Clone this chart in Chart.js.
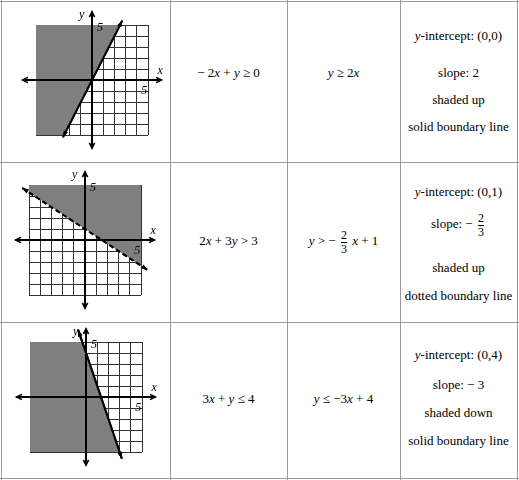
<!DOCTYPE html>
<html><head><meta charset="utf-8">
<script src="https://cdn.jsdelivr.net/npm/chart.js@4"></script>
<style>
body{margin:0;background:#fff;font-family:"Liberation Serif","Times New Roman","DejaVu Serif",serif;font-size:13px;color:#000}
#wrap{position:relative;width:519px;height:480px}
.v{position:absolute;top:0;height:480px;width:1px;background:#999}
.h{position:absolute;left:0;width:519px;height:1px;background:#999}
.cell{position:absolute;text-align:center}
canvas{position:absolute}
.frac{display:inline-flex;flex-direction:column;vertical-align:middle;text-align:center;font-size:12px;line-height:13px;margin:0 2px}
.frac span:first-child{border-bottom:1px solid #000}
i{font-style:italic}
</style></head><body>
<div id="wrap">
  <div class="h" style="top:1px"></div><div class="h" style="top:162px"></div>
  <div class="h" style="top:322px"></div><div class="h" style="top:478px"></div>
  <div class="v" style="left:1px"></div><div class="v" style="left:170px"></div>
  <div class="v" style="left:287px"></div><div class="v" style="left:400px"></div>
  <div class="v" style="left:517px"></div>

  <canvas id="g1" width="152" height="150" style="left:16px;top:5px"></canvas>
  <canvas id="g2" width="152" height="150" style="left:9px;top:165px"></canvas>
  <canvas id="g3" width="152" height="150" style="left:10px;top:322px"></canvas>

  <div class="cell" style="left:170px;width:117px;top:65px">− 2<i>x</i> + <i>y</i> ≥ 0</div>
  <div class="cell" style="left:287px;width:113px;top:65px"><i>y</i> ≥ 2<i>x</i></div>
  <div class="cell" style="left:400px;width:117px;top:28px"><i>y</i>-intercept: (0,0)</div>
  <div class="cell" style="left:400px;width:117px;top:65px">slope: 2</div>
  <div class="cell" style="left:400px;width:117px;top:92px">shaded up</div>
  <div class="cell" style="left:400px;width:117px;top:119px">solid boundary line</div>

  <div class="cell" style="left:170px;width:117px;top:233px">2<i>x</i> + 3<i>y</i> &gt; 3</div>
  <div class="cell" style="left:287px;width:113px;top:229px"><i>y</i> &gt; − <span class="frac"><span>2</span><span>3</span></span> <i>x</i> + 1</div>
  <div class="cell" style="left:400px;width:117px;top:184px"><i>y</i>-intercept: (0,1)</div>
  <div class="cell" style="left:400px;width:117px;top:212px">slope: − <span class="frac"><span>2</span><span>3</span></span></div>
  <div class="cell" style="left:400px;width:117px;top:260px">shaded up</div>
  <div class="cell" style="left:400px;width:117px;top:288px">dotted boundary line</div>

  <div class="cell" style="left:170px;width:117px;top:391px">3<i>x</i> + <i>y</i> ≤ 4</div>
  <div class="cell" style="left:287px;width:113px;top:391px"><i>y</i> ≤ −3<i>x</i> + 4</div>
  <div class="cell" style="left:400px;width:117px;top:347px"><i>y</i>-intercept: (0,4)</div>
  <div class="cell" style="left:400px;width:117px;top:377px">slope: − 3</div>
  <div class="cell" style="left:400px;width:117px;top:405px">shaded down</div>
  <div class="cell" style="left:400px;width:117px;top:433px">solid boundary line</div>
</div>
<script>
const gridTicks = [-5, -4, -3, -2, -1, 0, 1, 2, 3, 4, 5];

// graph 1: y >= 2x
const shade1 = [{x:-5,y:-5},{x:-2.5,y:-5},{x:2.5,y:5},{x:5,y:5}];
const line1 = [{x:-2.6,y:-5.2},{x:2.7,y:5.4}];
// graph 2: y > -2/3 x + 1
const shade2 = [{x:-5,y:4.33},{x:5,y:-2.33}];
const line2 = [{x:-5.6,y:4.73},{x:5.6,y:-2.73}];
// graph 3: y <= -3x + 4
const shade3 = [{x:-5,y:5},{x:-0.33,y:5},{x:3,y:-5},{x:5,y:-5}];
const line3 = [{x:-0.7,y:6.1},{x:3.2,y:-5.6}];

function arrow(ctx, x1, y1, x2, y2) {
  const a = Math.atan2(y2 - y1, x2 - x1), s = 6;
  ctx.beginPath();
  ctx.moveTo(x2 - s * Math.cos(a - 0.45), y2 - s * Math.sin(a - 0.45));
  ctx.lineTo(x2, y2);
  ctx.lineTo(x2 - s * Math.cos(a + 0.45), y2 - s * Math.sin(a + 0.45));
  ctx.stroke();
}

const axesPlugin = {
  id: "axes",
  afterDraw(chart) {
    const ctx = chart.ctx, xs = chart.scales.x, ys = chart.scales.y;
    const x0 = xs.getPixelForValue(0), y0 = ys.getPixelForValue(0);
    const left = xs.getPixelForValue(-6.2), right = xs.getPixelForValue(6.2);
    const top = ys.getPixelForValue(6.2), bottom = ys.getPixelForValue(-6.2);
    const ds = chart.data.datasets[1];
    const p = ds.data.map(d => [xs.getPixelForValue(d.x), ys.getPixelForValue(d.y)]);
    ctx.save();
    // boundary line on top of grid
    ctx.strokeStyle = "#000"; ctx.lineWidth = 2;
    ctx.setLineDash(ds.borderDash);
    ctx.beginPath(); ctx.moveTo(p[0][0], p[0][1]); ctx.lineTo(p[1][0], p[1][1]); ctx.stroke();
    ctx.setLineDash([]);
    ctx.beginPath(); ctx.moveTo(left, y0); ctx.lineTo(right, y0);
    ctx.moveTo(x0, top); ctx.lineTo(x0, bottom); ctx.stroke();
    ctx.lineWidth = 1.6;
    arrow(ctx, x0, y0, left, y0); arrow(ctx, x0, y0, right, y0);
    arrow(ctx, x0, y0, x0, top); arrow(ctx, x0, y0, x0, bottom);
    ctx.fillStyle = "#000";
    [[p[0], p[1]], [p[1], p[0]]].forEach(([a, b]) => {
      const ang = Math.atan2(a[1] - b[1], a[0] - b[0]);
      ctx.beginPath();
      ctx.moveTo(a[0], a[1]);
      ctx.lineTo(a[0] - 7 * Math.cos(ang - 0.35), a[1] - 7 * Math.sin(ang - 0.35));
      ctx.lineTo(a[0] - 7 * Math.cos(ang + 0.35), a[1] - 7 * Math.sin(ang + 0.35));
      ctx.fill();
    });
    ctx.font = "italic 12px 'Liberation Serif', serif";
    ctx.fillText("y", x0 - 13, top + 6);
    ctx.fillText("x", right - 4, y0 - 6);
    ctx.fillText("5", x0 + 5, ys.getPixelForValue(4.5));
    ctx.fillText("5", xs.getPixelForValue(4.4), y0 + 14);
    ctx.restore();
  }
};

function buildGraph(id, shade, fillTo, line, dashed) {
  new Chart(document.getElementById(id), {
    type: "scatter",
    data: {
      datasets: [
        { data: shade, showLine: true, fill: fillTo, pointRadius: 0, borderWidth: 0,
          backgroundColor: "#7f7f7f", borderColor: "rgba(0,0,0,0)" },
        { data: line, showLine: true, pointRadius: 0, borderWidth: 2, borderColor: "#000",
          borderDash: dashed ? [5, 3] : [], clip: false }
      ]
    },
    options: {
      responsive: false, animation: false,
      layout: { padding: 20 },
      plugins: { legend: { display: false }, tooltip: { enabled: false } },
      scales: {
        x: { type: "linear", min: -5, max: 5, display: true, z: 1,
             afterBuildTicks: s => { s.ticks = gridTicks.map(v => ({ value: v })); },
             ticks: { display: false }, border: { display: false },
             grid: { color: "#333", lineWidth: 1, drawTicks: false } },
        y: { type: "linear", min: -5, max: 5, display: true, z: 1,
             afterBuildTicks: s => { s.ticks = gridTicks.map(v => ({ value: v })); },
             ticks: { display: false }, border: { display: false },
             grid: { color: "#333", lineWidth: 1, drawTicks: false } }
      }
    },
    plugins: [axesPlugin]
  });
}

buildGraph("g1", shade1, "end", line1, false);
buildGraph("g2", shade2, "end", line2, true);
buildGraph("g3", shade3, "start", line3, false);
</script>
</body></html>
